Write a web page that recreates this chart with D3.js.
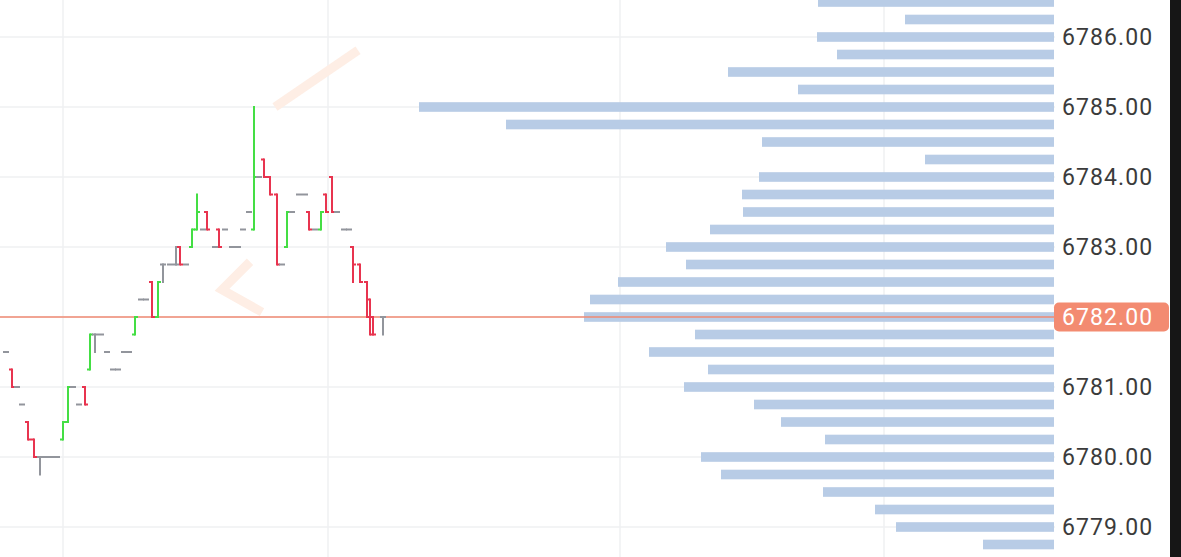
<!DOCTYPE html>
<html><head><meta charset="utf-8">
<script src="https://cdn.jsdelivr.net/npm/d3@7"></script>
<style>html,body{margin:0;padding:0;background:#fff;overflow:hidden}</style>
</head><body><svg id="c" width="1181" height="557"></svg>
<script>
// ---------- data ----------
const priceTicks = [6779, 6780, 6781, 6782, 6783, 6784, 6785, 6786];
const lastPrice = 6782.00;
const timeGrid = [25.2, 131.2, 248, 353.6];

// volume profile (price level -> contracts)
const vpPrices = [6786.50, 6786.25, 6786.00, 6785.75, 6785.50, 6785.25, 6785.00, 6784.75,
  6784.50, 6784.25, 6784.00, 6783.75, 6783.50, 6783.25, 6783.00, 6782.75,
  6782.50, 6782.25, 6782.00, 6781.75, 6781.50, 6781.25, 6781.00, 6780.75,
  6780.50, 6780.25, 6780.00, 6779.75, 6779.50, 6779.25, 6779.00, 6778.75, 6778.50];
const vpVolumes = [472, 298, 474, 434, 652, 512, 1270, 1096,
  584, 258, 590, 624, 622, 688, 776, 736,
  872, 928, 940, 718, 810, 692, 740, 600,
  546, 458, 706, 666, 462, 358, 316, 142, 242];

// tick bars (time in seconds)
const barTime = [2.4, 4.8, 6.8, 8.8, 11.2, 13.6, 16, 18.4, 20.8, 22.8,
  25.2, 27.2, 29.2, 31.6, 34, 36, 38, 40.4, 42.8, 45.2,
  47.2, 49.6, 51.6, 54, 56.4, 58.4, 60.8, 63.2, 65.2, 68,
  70.4, 72, 74.4, 76.8, 78.8, 81.2, 82.8, 86, 87.6, 90,
  92.8, 95.2, 97.2, 99.6, 101.6, 103.6, 105.6, 108, 110.8, 112.8,
  114.8, 116.8, 119.6, 122, 123.6, 126, 128.4, 130.4, 132.8, 134.8,
  137.6, 139.6, 141.2, 144, 146.8, 148, 149.2, 153.2];
const barOpen = [6781.5, 6781.25, 6781.0, 6780.75, 6780.5, 6780.25, 6780.0, 6780.0, 6780.0, 6780.0,
  6780.25, 6780.5, 6781.0, 6780.75, 6781.0, 6781.25, 6781.75, 6781.75, 6781.5, 6781.25,
  6781.25, 6781.5, 6781.5, 6781.75, 6782.25, 6782.25, 6782.5, 6782.0, 6782.75, 6782.75,
  6782.75, 6783.0, 6782.75, 6783.0, 6783.25, 6783.25, 6783.5, 6783.0, 6783.25, 6783.25,
  6783.0, 6783.0, 6783.25, 6783.5, 6783.25, 6784.0, 6784.25, 6784.0, 6783.75, 6782.75,
  6783.0, 6783.5, 6783.75, 6783.75, 6783.5, 6783.25, 6783.25, 6783.75, 6784.0, 6783.5,
  6783.25, 6783.25, 6783.0, 6782.75, 6782.5, 6782.25, 6782.0, 6782.0];
const barHigh = [6781.5, 6781.25, 6781.0, 6780.75, 6780.5, 6780.25, 6780.0, 6780.0, 6780.0, 6780.0,
  6780.5, 6781.0, 6781.0, 6780.75, 6781.0, 6781.75, 6781.75, 6781.75, 6781.5, 6781.25,
  6781.25, 6781.5, 6781.5, 6782.0, 6782.25, 6782.25, 6782.5, 6782.5, 6782.75, 6782.75,
  6783.0, 6783.0, 6782.75, 6783.25, 6783.75, 6783.25, 6783.5, 6783.0, 6783.25, 6783.25,
  6783.0, 6783.0, 6783.25, 6783.5, 6785.0, 6784.0, 6784.25, 6784.0, 6783.75, 6782.75,
  6783.5, 6783.5, 6783.75, 6783.75, 6783.5, 6783.25, 6783.5, 6783.75, 6784.0, 6783.5,
  6783.25, 6783.25, 6783.0, 6782.75, 6782.5, 6782.25, 6782.0, 6782.0];
const barLow = [6781.5, 6781.0, 6781.0, 6780.75, 6780.25, 6780.0, 6779.75, 6780.0, 6780.0, 6780.0,
  6780.25, 6780.5, 6781.0, 6780.75, 6780.75, 6781.25, 6781.5, 6781.75, 6781.5, 6781.25,
  6781.25, 6781.5, 6781.5, 6781.75, 6782.25, 6782.25, 6782.0, 6782.0, 6782.5, 6782.75,
  6782.75, 6782.75, 6782.75, 6783.0, 6783.25, 6783.25, 6783.25, 6783.0, 6783.0, 6783.25,
  6783.0, 6783.0, 6783.25, 6783.5, 6783.25, 6784.0, 6784.0, 6783.75, 6782.75, 6782.75,
  6783.0, 6783.5, 6783.75, 6783.75, 6783.25, 6783.25, 6783.25, 6783.5, 6783.5, 6783.5,
  6783.25, 6783.25, 6782.5, 6782.5, 6782.0, 6781.75, 6781.75, 6781.75];
const barClose = [6781.5, 6781.0, 6781.0, 6780.75, 6780.25, 6780.0, 6780.0, 6780.0, 6780.0, 6780.0,
  6780.5, 6781.0, 6781.0, 6780.75, 6780.75, 6781.75, 6781.75, 6781.75, 6781.5, 6781.25,
  6781.25, 6781.5, 6781.5, 6782.0, 6782.25, 6782.25, 6782.0, 6782.5, 6782.75, 6782.75,
  6782.75, 6782.75, 6782.75, 6783.25, 6783.5, 6783.25, 6783.25, 6783.0, 6783.0, 6783.25,
  6783.0, 6783.0, 6783.25, 6783.5, 6784.0, 6784.0, 6784.0, 6783.75, 6782.75, 6782.75,
  6783.5, 6783.5, 6783.75, 6783.75, 6783.25, 6783.25, 6783.5, 6783.5, 6783.5, 6783.5,
  6783.25, 6783.25, 6782.75, 6782.5, 6782.0, 6781.75, 6781.75, 6782.0];

// faint watermark strokes [time, price]
const mark1 = [[110, 6785.0], [143.2, 6785.81]];
const mark2 = [[100, 6782.79], [88.8, 6782.39], [104.8, 6782.07]];

// ---------- layout ----------
const W = 1181, H = 557, plotR = 1055;
const svg = d3.select("#c");
const x = d3.scaleLinear().domain([0, 422]).range([0, plotR]);
const y = d3.scaleLinear().domain([6779, 6786]).range([527, 37]);
const vx = d3.scaleLinear().domain([0, 1270]).range([0, 635]);

svg.append("rect").attr("width", W).attr("height", H).attr("fill", "#ffffff");
svg.append("defs").append("clipPath").attr("id", "clip")
  .append("rect").attr("x", 0).attr("y", 0).attr("width", plotR).attr("height", H);
const plot = svg.append("g").attr("clip-path", "url(#clip)");

// grid
plot.selectAll("line.hg").data(priceTicks).join("line")
  .attr("x1", 0).attr("x2", plotR).attr("y1", d => y(d)).attr("y2", d => y(d))
  .attr("stroke", "#eff0f2").attr("stroke-width", 1.5);
plot.selectAll("line.vg").data(timeGrid).join("line")
  .attr("y1", 0).attr("y2", H).attr("x1", d => x(d)).attr("x2", d => x(d))
  .attr("stroke", "#eff0f2").attr("stroke-width", 1.5);

// volume profile
const step = y(6782) - y(6782.25);
const bh = step * 0.55;
plot.selectAll("rect.vp").data(vpPrices).join("rect")
  .attr("x", (d, i) => plotR - 1 - vx(vpVolumes[i]))
  .attr("width", (d, i) => vx(vpVolumes[i]))
  .attr("y", d => y(d) - bh / 2)
  .attr("height", bh)
  .attr("fill", "#b8cce6");

// watermark
const wl = d3.line().x(d => x(d[0])).y(d => y(d[1]));
[mark1, mark2].forEach(m => plot.append("path").attr("d", wl(m))
  .attr("fill", "none").attr("stroke", "#feeee5").attr("stroke-width", 9));

// last price line
plot.append("line").attr("x1", 0).attr("x2", plotR)
  .attr("y1", y(lastPrice)).attr("y2", y(lastPrice))
  .attr("stroke", "#f08a72").attr("stroke-width", 1.5);

// tick bars
const color = i => barClose[i] > barOpen[i] ? "#44de44" : (barClose[i] < barOpen[i] ? "#e8344f" : "#92959c");
const tk = 3;
const bg = plot.append("g");
barTime.forEach((t, i) => {
  const cx = x(t), c = color(i);
  const g = bg.append("g").attr("stroke", c).attr("stroke-width", 2);
  if (barHigh[i] !== barLow[i]) {
    g.append("line").attr("x1", cx).attr("x2", cx).attr("y1", y(barHigh[i]) - 1).attr("y2", y(barLow[i]) + 1);
  }
  g.append("line").attr("x1", cx - tk).attr("x2", cx).attr("y1", y(barOpen[i])).attr("y2", y(barOpen[i]));
  g.append("line").attr("x1", cx).attr("x2", cx + tk).attr("y1", y(barClose[i])).attr("y2", y(barClose[i]));
});

// axis labels
const fmt = d3.format(".2f");
svg.append("g").selectAll("text").data(priceTicks.filter(d => d !== lastPrice)).join("text")
  .attr("x", plotR + 7).attr("y", d => y(d)).attr("dy", "0.36em")
  .attr("font-family", "Roboto, sans-serif").attr("font-size", 23)
  .attr("letter-spacing", 1.1).attr("fill", "#3b3b3b").text(d => fmt(d));

// last price label
svg.append("rect").attr("x", plotR - 1).attr("y", y(lastPrice) - 14.5)
  .attr("width", 115).attr("height", 29).attr("rx", 5).attr("fill", "#f38b71");
svg.append("text").attr("x", plotR + 7).attr("y", y(lastPrice)).attr("dy", "0.36em")
  .attr("font-family", "Roboto, sans-serif").attr("font-size", 23)
  .attr("letter-spacing", 1.1).attr("fill", "#ffffff").text(fmt(lastPrice));

// right dark edge
svg.append("rect").attr("x", 1170).attr("y", 0).attr("width", 11).attr("height", H).attr("fill", "#161616");
</script>
</body></html>
